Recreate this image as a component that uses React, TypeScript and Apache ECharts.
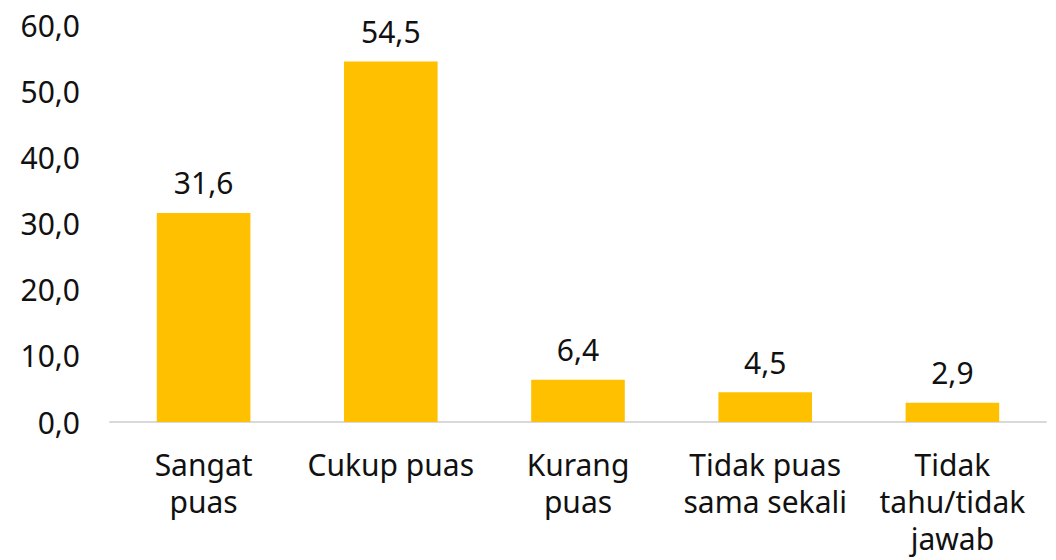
import React, { useEffect, useRef } from "react";
import * as echarts from "echarts";

const categories = [
  "Sangat\npuas",
  "Cukup puas",
  "Kurang\npuas",
  "Tidak puas\nsama sekali",
  "Tidak\ntahu/tidak\njawab",
];
const values = [31.6, 54.5, 6.4, 4.5, 2.9];
const yMin = 0;
const yMax = 60;
const yInterval = 10;

const fmt = (v: number) => v.toFixed(1).replace(".", ",");
const FONT = "'Noto Sans', sans-serif";

export default function App() {
  const ref = useRef<HTMLDivElement>(null);
  useEffect(() => {
    document.body.style.margin = "0";
    const chart = echarts.init(ref.current!, null, { renderer: "svg" });
    chart.setOption({
      animation: false,
      backgroundColor: "#ffffff",
      textStyle: { fontFamily: FONT },
      grid: { left: 110, right: 10, top: 25, bottom: 138, containLabel: false },
      xAxis: {
        type: "category",
        data: categories,
        axisTick: { show: false },
        axisLine: { show: true, lineStyle: { color: "#d9d9d9", width: 2 } },
        axisLabel: {
          color: "#111",
          fontSize: 30,
          fontFamily: FONT,
          lineHeight: 37,
          margin: 24,
          interval: 0,
        },
      },
      yAxis: {
        type: "value",
        min: yMin,
        max: yMax,
        interval: yInterval,
        axisLine: { show: false },
        axisTick: { show: false },
        splitLine: { show: false },
        axisLabel: {
          color: "#111",
          fontSize: 30,
          fontFamily: FONT,
          margin: 30,
          formatter: (v: number) => fmt(v),
        },
      },
      series: [
        {
          type: "bar",
          data: values,
          barWidth: "50%",
          itemStyle: { color: "#FFC000" },
          label: {
            show: true,
            position: "top",
            distance: 15,
            color: "#111",
            fontSize: 30,
            fontFamily: FONT,
            formatter: (p: any) => fmt(p.value),
          },
        },
      ],
    });
    return () => chart.dispose();
  }, []);
  return <div ref={ref} style={{ width: 1056, height: 560 }} />;
}
